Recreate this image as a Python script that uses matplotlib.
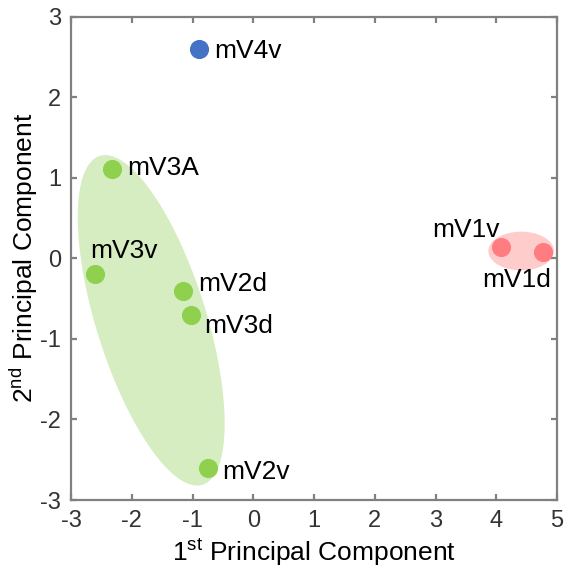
import numpy as np
import matplotlib.pyplot as plt

plt.rcParams['font.family'] = ['Liberation Sans', 'DejaVu Sans']
plt.rcParams['mathtext.fontset'] = 'custom'
plt.rcParams['mathtext.rm'] = 'Liberation Sans'
plt.rcParams['axes.unicode_minus'] = False

# PCA scores
names = ['mV4v', 'mV3A', 'mV3v', 'mV2d', 'mV3d', 'mV2v', 'mV1v', 'mV1d']
pc1 = [-0.89, -2.33, -2.60, -1.15, -1.02, -0.75, 4.08, 4.77]
pc2 = [2.60, 1.11, -0.20, -0.41, -0.71, -2.60, 0.14, 0.08]
group = ['blue', 'green', 'green', 'green', 'green', 'green', 'red', 'red']

colors = {'blue': '#4472C4', 'green': '#8FD14F', 'red': '#FF7C80'}
# label offsets in pixels (dx, dy) and alignment
offs = {'mV4v': (15, 0, 'left'), 'mV3A': (15, 3, 'left'), 'mV3v': (-5, 26, 'left'),
        'mV2d': (15, 10, 'left'), 'mV3d': (13, -8, 'left'), 'mV2v': (14, -2, 'left'),
        'mV1v': (-1, 19, 'right'), 'mV1d': (8, -26, 'right')}

fig = plt.figure(figsize=(5.7, 5.71), dpi=100)
ax = fig.add_axes([0.1246, 0.1243, 0.8526, 0.8468])

# cluster ellipses (centre + conjugate semi-diameters, data units)
t = np.linspace(0, 2*np.pi, 200)
c = np.array([-1.68, -0.77])
u = np.array([0.846, -2.04])
v = np.array([0.864, 0.204])
ax.fill(c[0] + u[0]*np.cos(t) + v[0]*np.sin(t), c[1] + u[1]*np.cos(t) + v[1]*np.sin(t),
        color='#D5EDC0', lw=0, zorder=1)
ax.fill(4.41 + 0.54*np.cos(t), 0.09 + 0.24*np.sin(t), color='#FFCCCC', lw=0, zorder=1)

for n, x, y, g in zip(names, pc1, pc2, group):
    ax.scatter(x, y, s=190, color=colors[g], lw=0, zorder=3)
    dx, dy, ha = offs[n]
    ax.annotate(n, (x, y), xytext=(dx, dy), textcoords='offset pixels',
                ha=ha, va='center_baseline', fontsize=19, zorder=4)

ax.set_xlim(-3, 5)
ax.set_ylim(-3, 3)
ax.set_xticks(range(-3, 6))
ax.set_yticks(range(-3, 4))
for s in ax.spines.values():
    s.set_color('#808080')
    s.set_linewidth(1.6)
ax.tick_params(direction='in', length=4, width=1.6, color='#808080', labelcolor='#333333',
               top=True, right=True, labelsize=17, pad=7)
ax.set_xlabel('1$^{\\mathrm{st}}$ Principal Component', fontsize=19, labelpad=3)
ax.set_ylabel('2$^{\\mathrm{nd}}$ Principal Component', fontsize=19, labelpad=0)

plt.savefig('out.png', dpi=100)
